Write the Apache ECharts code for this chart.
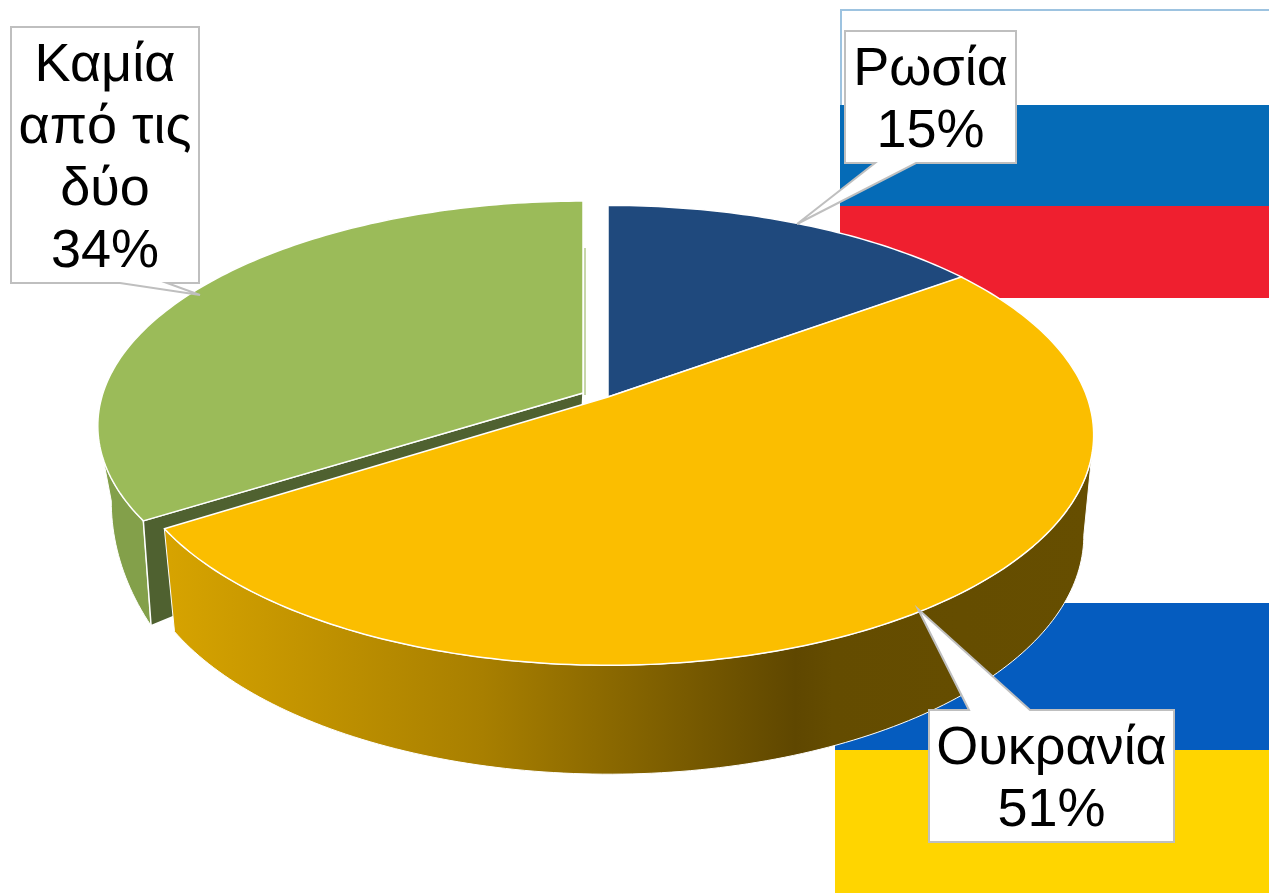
<!DOCTYPE html>
<html>
<head>
<meta charset="utf-8">
<style>html,body{margin:0;padding:0;background:#fff}#c{width:1269px;height:893px}</style>
<script src="https://cdn.jsdelivr.net/npm/echarts@6/dist/echarts.min.js"></script>
</head>
<body>
<div id="c"></div>
<script>
const categories = ['Ρωσία', 'Ουκρανία', 'Καμία από τις δύο'];
const labelLines = ['Ρωσία', 'Ουκρανία', 'Καμία\nαπό τις\nδύο'];
const values = [15, 51, 34];
const topColors = ['#1f497d', '#fbbe00', '#9bbb59'];

// Per-slice placement (exploded slices) of the tilted disc: top surface and bottom rim
const geom = [
  { top: { x: 608, y: 397, a: 481, b: 224, p: 0.169 }, bot: null },
  { top: { x: 608, y: 397, a: 479, b: 224, p: 0.165 }, bot: { x: 609, y: 495, a: 468, b: 232, p: 0.169 } },
  { top: { x: 583, y: 393, a: 480, b: 220, p: 0.146 }, bot: { x: 580, y: 449, a: 462, b: 300, p: 0.169 } }
];
// Callout boxes: [x0, y0, x1, y1], pointer base x0,x1 and tip
const callouts = [
  { box: [845, 31, 1016, 163], base: [875, 916], tip: [797, 224], side: 'bottom' },
  { box: [929, 710, 1174, 842], base: [969, 1030], tip: [918, 609], side: 'top' },
  { box: [11, 27, 199, 283], base: [120, 167], tip: [200, 295], side: 'bottom' }
];
const silhouette = 99.7; // angle of the rim's widest point, degrees
const textDrop = 4;

function project(g, deg) {
  const t = deg * Math.PI / 180;
  const w = 1 + g.p * Math.cos(t);
  return [g.x + g.a * Math.sin(t) / w, g.y - g.b * Math.cos(t) / w];
}
function arc(g, from, to) {
  const out = [];
  const n = Math.max(2, Math.ceil(Math.abs(to - from)));
  for (let i = 0; i <= n; i++) out.push(project(g, from + (to - from) * i / n));
  return out;
}
const total = values.reduce((s, v) => s + v, 0);
function range(i) {
  let s = 0;
  for (let k = 0; k < i; k++) s += values[k];
  return [s / total * 360, (s + values[i]) / total * 360];
}
const edge = { stroke: '#ffffff', lineWidth: 1.5, lineJoin: 'round' };

function calloutPoints(c) {
  const [x0, y0, x1, y1] = c.box;
  if (c.side === 'top') {
    return [[x0, y0], [c.base[0], y0], c.tip, [c.base[1], y0], [x1, y0], [x1, y1], [x0, y1]];
  }
  return [[x0, y0], [x1, y0], [x1, y1], [c.base[1], y1], c.tip, [c.base[0], y1], [x0, y1]];
}

function renderItem(params, api) {
  const i = params.dataIndex;
  const [a0, a1] = range(i);
  const g = geom[i];
  const kids = [];
  if (i === 1) {
    const wall = arc(g.top, silhouette, a1).concat(arc(g.bot, a1, silhouette));
    kids.push({
      type: 'polygon', z2: 20, shape: { points: wall },
      style: Object.assign({}, edge, { lineWidth: 1, fill: {
        type: 'linear', global: true, x: 170, y: 0, x2: 1090, y2: 0,
        colorStops: [
          { offset: 0, color: '#d6a300' },
          { offset: 0.34, color: '#a87f00' },
          { offset: 0.68, color: '#5f4700' },
          { offset: 0.72, color: '#644c00' },
          { offset: 1, color: '#664e00' }
        ] } })
    });
  }
  if (i === 2) {
    const wall = arc(g.top, a0, 360 - silhouette).concat(arc(g.bot, 360 - silhouette, a0));
    kids.push({
      type: 'polygon', z2: 5, shape: { points: wall },
      style: Object.assign({}, edge, { lineWidth: 1, fill: '#83a04a' })
    });
    const face = [[g.top.x, g.top.y], project(g.top, a0), project(g.bot, a0), [g.bot.x, g.bot.y]];
    kids.push({
      type: 'polygon', z2: 6, shape: { points: face },
      style: Object.assign({}, edge, { fill: '#4f6130' })
    });
    const t = project(g.top, a1);
    kids.push({
      type: 'line', z2: 7,
      shape: { x1: t[0] + 2, y1: t[1] + 47, x2: g.top.x + 2, y2: g.top.y + 2 },
      style: { stroke: '#8fae55', lineWidth: 1 }
    });
  }
  kids.push({
    type: 'polygon', z2: i === 1 ? 30 : 10,
    shape: { points: [[g.top.x, g.top.y]].concat(arc(g.top, a0, a1)) },
    style: Object.assign({}, edge, { fill: topColors[i] })
  });
  const c = callouts[i];
  kids.push({
    type: 'polygon', z2: 40, shape: { points: calloutPoints(c) },
    style: { fill: '#ffffff', stroke: '#bfbfbf', lineWidth: 2, lineJoin: 'miter' }
  });
  kids.push({
    type: 'text', z2: 41,
    style: {
      x: (c.box[0] + c.box[2]) / 2,
      y: (c.box[1] + c.box[3]) / 2 + textDrop,
      text: labelLines[i] + '\n' + api.value(0) + '%',
      fill: '#000000', align: 'center', verticalAlign: 'middle',
      font: '54px "Liberation Sans", Arial, sans-serif', lineHeight: 62
    }
  });
  return { type: 'group', children: kids };
}

const chart = echarts.init(document.getElementById('c'), null, { renderer: 'canvas' });
chart.setOption({
  animation: false,
  backgroundColor: '#ffffff',
  graphic: { elements: [
    { type: 'rect', z: -5, shape: { x: 841, y: 10, width: 500, height: 100 }, style: { fill: '#ffffff', stroke: '#9dc3e0', lineWidth: 2 } },
    { type: 'rect', z: -4, shape: { x: 840, y: 105, width: 429, height: 101 }, style: { fill: '#056bb7' } },
    { type: 'rect', z: -4, shape: { x: 840, y: 206, width: 429, height: 92 }, style: { fill: '#ef1f2f' } },
    { type: 'rect', z: -4, shape: { x: 835, y: 603, width: 434, height: 147 }, style: { fill: '#055cbf' } },
    { type: 'rect', z: -4, shape: { x: 835, y: 750, width: 434, height: 143 }, style: { fill: '#ffd500' } }
  ] },
  series: [{
    type: 'custom',
    z: 5,
    coordinateSystem: 'none',
    renderItem,
    data: categories.map((name, i) => ({ name, value: [values[i]] }))
  }]
});
</script>
</body>
</html>
